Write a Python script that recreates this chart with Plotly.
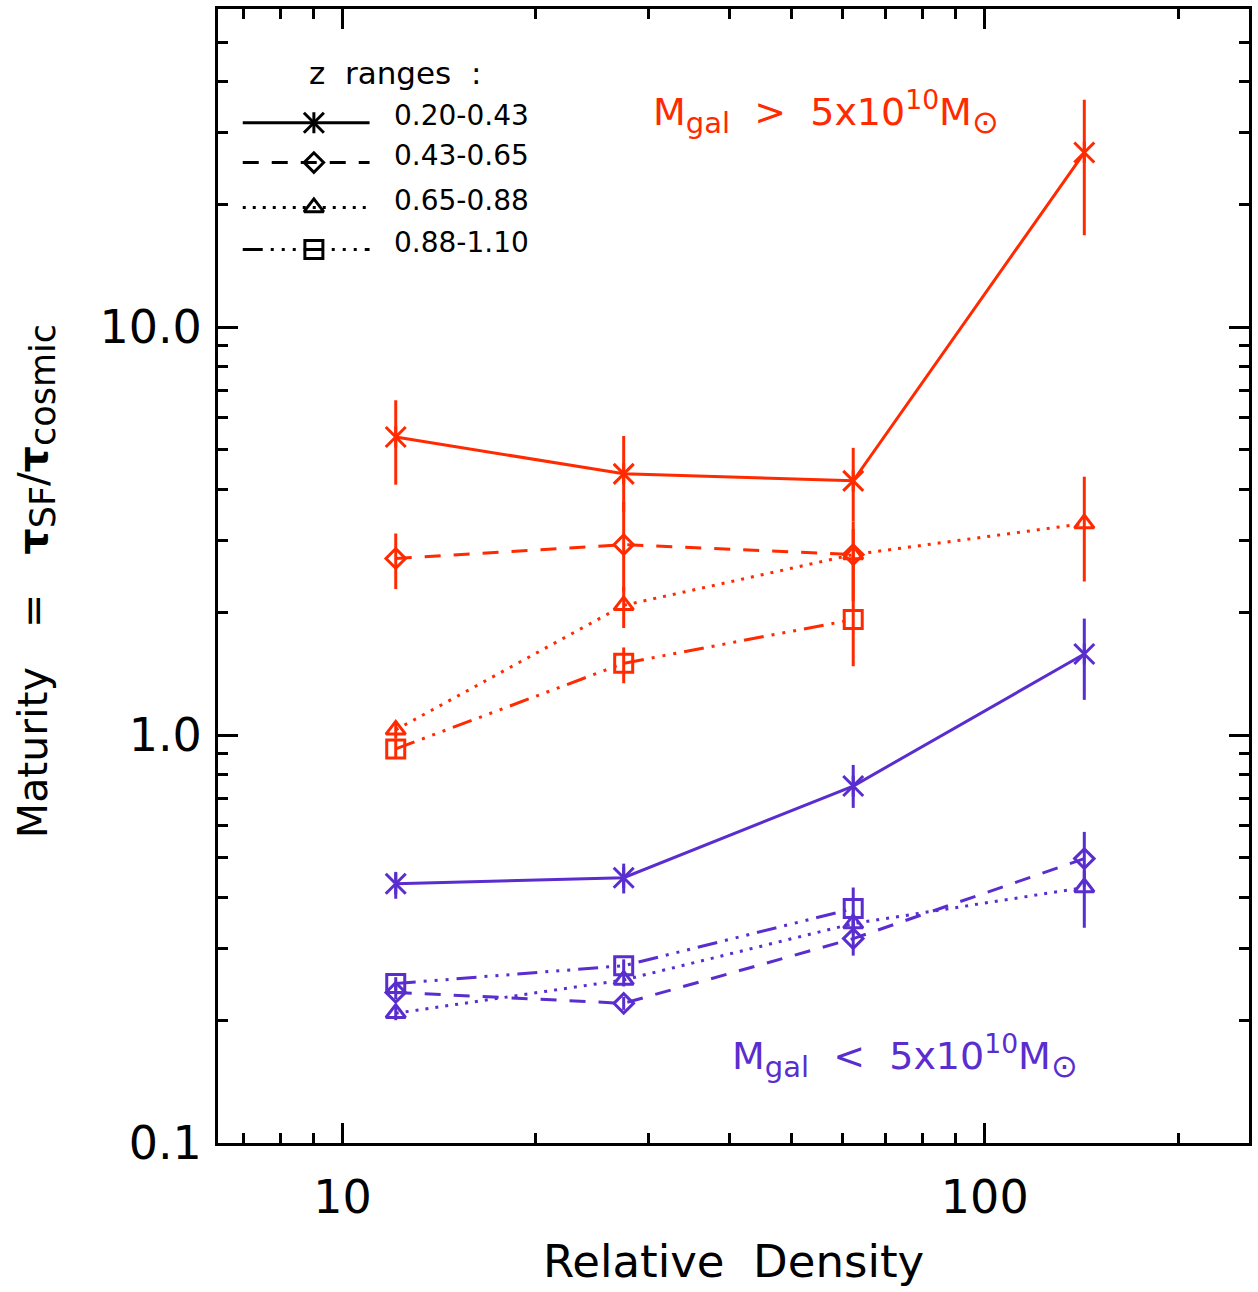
import plotly.graph_objects as go

# ---------------- data ----------------
density = [12.1, 27.4, 62.4, 142.9]
z_ranges = ["0.20-0.43", "0.43-0.65", "0.65-0.88", "0.88-1.10"]

# massive galaxies (red)
hi_z1 = [5.38, 4.37, 4.20, 26.8]
hi_z1_up = [6.62, 5.41, 5.06, 36.1]
hi_z1_lo = [4.11, 3.53, 3.34, 16.8]

hi_z2 = [2.71, 2.93, 2.77]
hi_z2_up = [3.12, 3.73, 3.34]
hi_z2_lo = [2.28, 2.25, 2.25]

hi_z3 = [1.03, 2.08, 2.77, 3.30]
hi_z3_up = [1.08, 2.31, 3.20, 4.30]
hi_z3_lo = [0.98, 1.83, 2.13, 2.38]

hi_z4 = [0.925, 1.50, 1.92]
hi_z4_up = [0.97, 1.64, 2.25]
hi_z4_lo = [0.88, 1.34, 1.475]

# low-mass galaxies (blue)
lo_z1 = [0.432, 0.447, 0.750, 1.58]
lo_z1_up = [0.462, 0.484, 0.845, 1.93]
lo_z1_lo = [0.397, 0.409, 0.663, 1.22]

lo_z2 = [0.234, 0.220, 0.317, 0.498]
lo_z2_up = [0.243, 0.228, 0.351, 0.579]
lo_z2_lo = [0.225, 0.212, 0.288, 0.425]

lo_z3 = [0.208, 0.251, 0.345, 0.423]
lo_z3_up = [0.216, 0.260, 0.365, 0.465]
lo_z3_lo = [0.200, 0.242, 0.325, 0.337]

lo_z4 = [0.246, 0.272, 0.3755]
lo_z4_up = [0.255, 0.282, 0.423]
lo_z4_lo = [0.237, 0.262, 0.332]

x_ticks = [10, 100]
x_ticktext = ["10", "100"]
x_minor = [7, 8, 9, 20, 30, 40, 50, 60, 70, 80, 90, 200]
y_ticks = [0.1, 1, 10]
y_ticktext = ["0.1", "1.0", "10.0"]
y_minor = [0.2, 0.3, 0.4, 0.5, 0.6, 0.7, 0.8, 0.9,
           2, 3, 4, 5, 6, 7, 8, 9, 20, 30, 40, 50]

# ---------------- styles ----------------
RED = "#ff2a00"
BLUE = "#5a2dcf"
FONT = "DejaVu Sans"
DASHES = ["solid", "16px,13px", "3px,7px", "20px,8px,3px,8px,3px,8px,3px,8px"]
SYMBOLS = ["x-thin-open", "diamond-open", "triangle-up-open", "square-open"]
SIZES = [20, 15, 17, 18]
NB = "\u00a0"

fig = go.Figure()


def add_series(x, y, up, lo, color, idx):
    plus = [u - v for u, v in zip(up, y)]
    minus = [v - l for v, l in zip(y, lo)]
    fig.add_trace(go.Scatter(
        x=x, y=y, mode="lines+markers",
        line=dict(color=color, width=3, dash=DASHES[idx]),
        marker=dict(symbol=SYMBOLS[idx], size=SIZES[idx], color=color,
                    line=dict(color=color, width=3)),
        error_y=dict(type="data", symmetric=False, array=plus, arrayminus=minus,
                     color=color, thickness=3, width=0),
        showlegend=False, hoverinfo="skip",
    ))
    if idx == 0:
        fig.add_trace(go.Scatter(
            x=x, y=y, mode="markers",
            marker=dict(symbol="line-ns-open", size=15, color=color,
                        line=dict(color=color, width=3)),
            showlegend=False, hoverinfo="skip",
        ))


add_series(density, hi_z1, hi_z1_up, hi_z1_lo, RED, 0)
add_series(density[:len(hi_z2)], hi_z2, hi_z2_up, hi_z2_lo, RED, 1)
add_series(density, hi_z3, hi_z3_up, hi_z3_lo, RED, 2)
add_series(density[:len(hi_z4)], hi_z4, hi_z4_up, hi_z4_lo, RED, 3)
add_series(density, lo_z1, lo_z1_up, lo_z1_lo, BLUE, 0)
add_series(density, lo_z2, lo_z2_up, lo_z2_lo, BLUE, 1)
add_series(density, lo_z3, lo_z3_up, lo_z3_lo, BLUE, 2)
add_series(density[:len(lo_z4)], lo_z4, lo_z4_up, lo_z4_lo, BLUE, 3)

# ---------------- custom legend (auxiliary 0..1 axes) ----------------
leg_x0, leg_xm, leg_x1 = 0.024, 0.093, 0.147
leg_rows = [0.8997, 0.8646, 0.825, 0.788]
for i, (label, ry) in enumerate(zip(z_ranges, leg_rows)):
    fig.add_trace(go.Scatter(
        x=[leg_x0, leg_xm, leg_x1], y=[ry, ry, ry], xaxis="x2", yaxis="y2",
        mode="lines", line=dict(color="black", width=3, dash=DASHES[i]),
        showlegend=False, hoverinfo="skip"))
    fig.add_trace(go.Scatter(
        x=[leg_xm], y=[ry], xaxis="x2", yaxis="y2", mode="markers",
        marker=dict(symbol=SYMBOLS[i], size=SIZES[i], color="black",
                    line=dict(color="black", width=3)),
        showlegend=False, hoverinfo="skip"))
    if i == 0:
        fig.add_trace(go.Scatter(
            x=[leg_xm], y=[ry], xaxis="x2", yaxis="y2", mode="markers",
            marker=dict(symbol="line-ns-open", size=15, color="black",
                        line=dict(color="black", width=3)),
            showlegend=False, hoverinfo="skip"))
    fig.add_annotation(x=0.169, y=ry + 0.006, xref="paper", yref="paper",
                       text=label, showarrow=False, xanchor="left", yanchor="middle",
                       font=dict(family=FONT, size=28, color="black"))

fig.add_annotation(x=0.1717, y=0.9437, xref="paper", yref="paper",
                   text="z" + NB * 2 + "ranges" + NB * 2 + ":", showarrow=False,
                   xanchor="center", yanchor="middle",
                   font=dict(family=FONT, size=31, color="black"))

# ---------------- text annotations ----------------
SUN = "<sub><span style='font-size:32px'>⊙</span></sub>"
GAL = "<sub><span style='font-size:29px'>gal</span></sub>"
fig.add_annotation(x=0.4197, y=0.9085, xref="paper", yref="paper",
                   text="M" + GAL + NB * 2 + ">" + NB * 2 + "5x10<sup>10</sup>M" + SUN,
                   showarrow=False, xanchor="left", yanchor="middle",
                   font=dict(family=FONT, size=38, color=RED))
fig.add_annotation(x=0.497, y=0.0765, xref="paper", yref="paper",
                   text="M" + GAL + NB * 2 + "<" + NB * 2 + "5x10<sup>10</sup>M" + SUN,
                   showarrow=False, xanchor="left", yanchor="middle",
                   font=dict(family=FONT, size=38, color=BLUE))

fig.add_annotation(x=-0.176, y=0.495, xref="paper", yref="paper",
                   text=("Maturity" + NB * 3 + "=" + NB * 3
                         + "<b>τ</b><sub><span style='font-size:35px'>SF</span></sub>/"
                         + "<b>τ</b><sub><span style='font-size:35px'>cosmic</span></sub>"),
                   textangle=-90, showarrow=False, xanchor="center", yanchor="middle",
                   font=dict(family=FONT, size=41, color="black"))
fig.add_annotation(x=0.5, y=-0.1047, xref="paper", yref="paper",
                   text="Relative" + NB * 2 + "Density", showarrow=False,
                   xanchor="center", yanchor="middle",
                   font=dict(family=FONT, size=45, color="black"))

# ---------------- axes ----------------
axis_common = dict(showgrid=False, zeroline=False, showline=True, linecolor="black",
                   linewidth=3, mirror="ticks", ticks="inside", ticklen=20,
                   tickwidth=3, tickcolor="black",
                   tickfont=dict(family=FONT, size=46, color="black"))

fig.update_layout(
    width=1258, height=1292,
    margin=dict(l=218, r=6, t=6, b=149),
    paper_bgcolor="white", plot_bgcolor="white",
    showlegend=False,
    xaxis=dict(type="log", range=[0.806, 2.4115], tickvals=x_ticks, ticktext=x_ticktext,
               ticklabelstandoff=12,
               minor=dict(tickvals=x_minor, ticks="inside", ticklen=10, tickwidth=3,
                          tickcolor="black", showgrid=False),
               **axis_common),
    yaxis=dict(type="log", range=[-1, 1.780], tickvals=y_ticks, ticktext=y_ticktext,
               ticklabelstandoff=4,
               minor=dict(tickvals=y_minor, ticks="inside", ticklen=10, tickwidth=3,
                          tickcolor="black", showgrid=False),
               **axis_common),
    xaxis2=dict(overlaying="x", range=[0, 1], visible=False, domain=[0, 1]),
    yaxis2=dict(overlaying="y", range=[0, 1], visible=False, domain=[0, 1]),
)

fig.write_html("out.html", config={"displayModeBar": False},
               post_script="document.body.style.margin='0';")
